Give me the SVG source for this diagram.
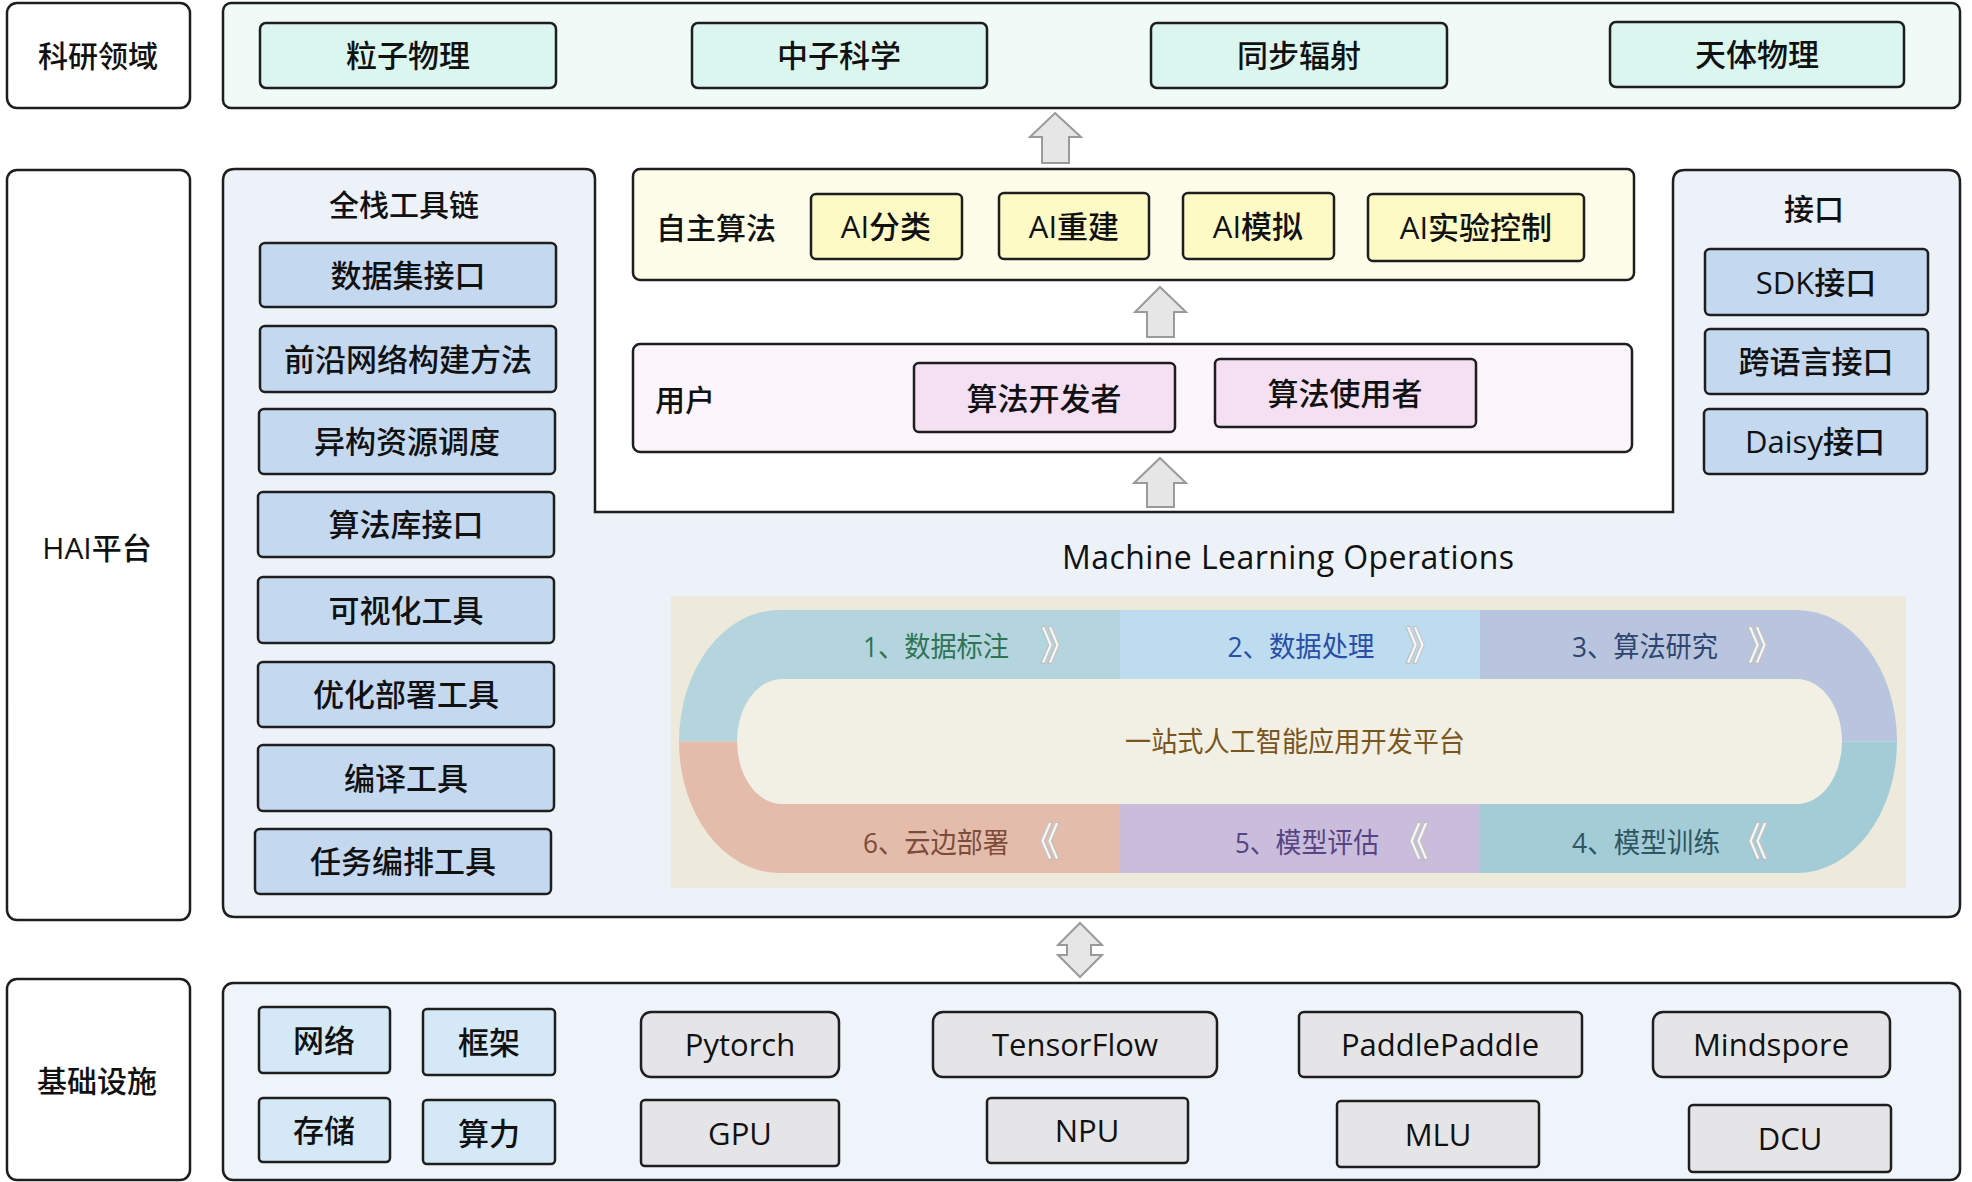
<svg xmlns="http://www.w3.org/2000/svg" width="1972" height="1182" viewBox="0 0 1972 1182">
<style>
text{font-family:"Open Sans","Noto Sans CJK SC",sans-serif;fill:#111;dominant-baseline:central;text-anchor:middle;font-weight:500}
.t30{font-size:30px}
.t31{font-size:31px}
.lbl{fill:#fff;stroke:#1e1e1e;stroke-width:2.5}
.box{stroke:#1e1e1e;stroke-width:2.5}
.dom{fill:#dbf6ef}
.tool{fill:#c4d8f0}
.ai{fill:#fdfac6}
.role{fill:#f4dff3}
.inf{fill:#d5e8f6}
.gray{fill:#e5e5e8}
.arr{fill:#e6e6e6;stroke:#9a9a9a;stroke-width:2}
.stg{font-size:28px;font-weight:400}
.chev{font-size:40px;font-weight:700;fill:#f9f9f9;stroke:#bdbdbd;stroke-width:1}
</style>
<rect width="1972" height="1182" fill="#fff"/>

<!-- left labels -->
<g id="label-keyan"><rect class="lbl" x="7" y="3" width="183" height="105" rx="10"/><text class="t30" x="98" y="55">科研领域</text></g>
<g id="label-hai"><rect class="lbl" x="7" y="170" width="183" height="750" rx="10"/><text class="t30" x="97" y="547">HAI平台</text></g>
<g id="label-infra"><rect class="lbl" x="7" y="979" width="183" height="201" rx="10"/><text class="t30" x="97" y="1080">基础设施</text></g>

<!-- domain layer -->
<g id="domain">
<rect x="223" y="3" width="1737" height="105" rx="8" fill="#f0fbf8" stroke="#1e1e1e" stroke-width="2.5"/>
<g id="d1"><rect class="box dom" x="260" y="23" width="296" height="65" rx="6"/><text class="t31" x="408" y="55">粒子物理</text></g>
<g id="d2"><rect class="box dom" x="692" y="23" width="295" height="65" rx="6"/><text class="t31" x="839" y="55">中子科学</text></g>
<g id="d3"><rect class="box dom" x="1151" y="23" width="296" height="65" rx="6"/><text class="t31" x="1299" y="55">同步辐射</text></g>
<g id="d4"><rect class="box dom" x="1610" y="22" width="294" height="65" rx="6"/><text class="t31" x="1757" y="54">天体物理</text></g>
</g>

<!-- HAI platform container -->
<g id="hai">
<path d="M235,169 L585,169 Q595,169 595,179 L595,512 L1673,512 L1673,182 Q1673,170 1685,170 L1948,170 Q1960,170 1960,182 L1960,905 Q1960,917 1948,917 L235,917 Q223,917 223,905 L223,181 Q223,169 235,169 Z" fill="#edf1f8" stroke="#1e1e1e" stroke-width="2.5"/>
<text class="t30" x="404" y="204">全栈工具链</text>
<g id="tool1"><rect class="box tool" x="260" y="243" width="296" height="64" rx="5"/><text class="t31" x="408" y="275">数据集接口</text></g>
<g id="tool2"><rect class="box tool" x="260" y="326" width="296" height="66" rx="5"/><text class="t31" x="408" y="359">前沿网络构建方法</text></g>
<g id="tool3"><rect class="box tool" x="259" y="409" width="296" height="65" rx="5"/><text class="t31" x="407" y="441">异构资源调度</text></g>
<g id="tool4"><rect class="box tool" x="258" y="492" width="296" height="65" rx="5"/><text class="t31" x="406" y="524">算法库接口</text></g>
<g id="tool5"><rect class="box tool" x="258" y="577" width="296" height="66" rx="5"/><text class="t31" x="406" y="610">可视化工具</text></g>
<g id="tool6"><rect class="box tool" x="258" y="662" width="296" height="65" rx="5"/><text class="t31" x="406" y="694">优化部署工具</text></g>
<g id="tool7"><rect class="box tool" x="258" y="745" width="296" height="66" rx="5"/><text class="t31" x="406" y="778">编译工具</text></g>
<g id="tool8"><rect class="box tool" x="255" y="829" width="296" height="65" rx="5"/><text class="t31" x="403" y="861">任务编排工具</text></g>

<text class="t30" x="1814" y="208">接口</text>
<g id="if1"><rect class="box tool" x="1705" y="249" width="223" height="66" rx="5"/><text class="t31" x="1816" y="282">SDK接口</text></g>
<g id="if2"><rect class="box tool" x="1705" y="329" width="223" height="65" rx="5"/><text class="t31" x="1816" y="361">跨语言接口</text></g>
<g id="if3"><rect class="box tool" x="1704" y="409" width="223" height="65" rx="5"/><text class="t31" x="1815" y="441">Daisy接口</text></g>
</g>

<!-- algorithms -->
<g id="algo">
<rect x="633" y="169" width="1001" height="111" rx="7" fill="#fdfde9" stroke="#1e1e1e" stroke-width="2.5"/>
<text class="t30" x="716" y="227">自主算法</text>
<g id="a1"><rect class="box ai" x="811" y="194" width="151" height="65" rx="5"/><text class="t31" x="886" y="226">AI分类</text></g>
<g id="a2"><rect class="box ai" x="999" y="193" width="150" height="66" rx="5"/><text class="t31" x="1074" y="226">AI重建</text></g>
<g id="a3"><rect class="box ai" x="1183" y="193" width="151" height="66" rx="5"/><text class="t31" x="1258" y="226">AI模拟</text></g>
<g id="a4"><rect class="box ai" x="1368" y="194" width="216" height="67" rx="5"/><text class="t31" x="1476" y="227">AI实验控制</text></g>
</g>

<!-- users -->
<g id="users">
<rect x="633" y="344" width="999" height="108" rx="7" fill="#fcf5fb" stroke="#1e1e1e" stroke-width="2.5"/>
<text class="t30" x="685" y="399">用户</text>
<g id="u1"><rect class="box role" x="914" y="363" width="261" height="69" rx="5"/><text class="t31" x="1044" y="398">算法开发者</text></g>
<g id="u2"><rect class="box role" x="1215" y="359" width="261" height="68" rx="5"/><text class="t31" x="1345" y="393">算法使用者</text></g>
</g>

<!-- MLOps -->
<g id="mlops">
<text x="1288" y="556" style="font-size:32px;font-weight:400" textLength="452">Machine Learning Operations</text>
<rect x="671" y="596" width="1235" height="292" fill="#eeeadb"/>
<path d="M779,610 L1797,610 A100 131.5 0 0 1 1797,873 L779,873 A100 131.5 0 0 1 779,610 Z" fill="#f2efe5"/>
<path d="M679,741.5 A100 131.5 0 0 1 779,610 L1120,610 L1120,679 L782,679 A45 62.5 0 0 0 737,741.5 Z" fill="#b4d5dd"/>
<rect x="1120" y="610" width="360" height="69" fill="#bddcf0"/>
<path d="M1480,610 L1797,610 A100 131.5 0 0 1 1897,741.5 L1842,741.5 A45 62.5 0 0 0 1797,679 L1480,679 Z" fill="#b9c5de"/>
<path d="M1897,741.5 A100 131.5 0 0 1 1797,873 L1480,873 L1480,804 L1797,804 A45 62.5 0 0 0 1842,741.5 Z" fill="#a3ccd7"/>
<rect x="1120" y="804" width="360" height="69" fill="#cabcdb"/>
<path d="M1120,873 L779,873 A100 131.5 0 0 1 679,741.5 L737,741.5 A45 62.5 0 0 0 782,804 L1120,804 Z" fill="#e4bcab"/>
<text class="stg" x="936" y="646" textLength="146" lengthAdjust="spacingAndGlyphs" style="fill:#2f7355">1、数据标注</text>
<text class="chev" x="1060" y="644">》</text>
<text class="stg" x="1301" y="646" textLength="147" lengthAdjust="spacingAndGlyphs" style="fill:#2a4ea8">2、数据处理</text>
<text class="chev" x="1425" y="644">》</text>
<text class="stg" x="1645" y="646" textLength="146" lengthAdjust="spacingAndGlyphs" style="fill:#2f4670">3、算法研究</text>
<text class="chev" x="1767" y="644">》</text>
<text class="stg" x="1295" y="741" textLength="340" lengthAdjust="spacingAndGlyphs" style="fill:#7a5520">一站式人工智能应用开发平台</text>
<text class="stg" x="1646" y="842" textLength="148" lengthAdjust="spacingAndGlyphs" style="fill:#2d5660">4、模型训练</text>
<text class="chev" x="1748" y="840">《</text>
<text class="stg" x="1307" y="842" textLength="144" lengthAdjust="spacingAndGlyphs" style="fill:#574484">5、模型评估</text>
<text class="chev" x="1409" y="840">《</text>
<text class="stg" x="936" y="842" textLength="146" lengthAdjust="spacingAndGlyphs" style="fill:#7c4b3a">6、云边部署</text>
<text class="chev" x="1040" y="840">《</text>
</g>

<!-- infrastructure -->
<g id="infra">
<rect x="223" y="983" width="1737" height="197" rx="10" fill="#eff3fa" stroke="#1e1e1e" stroke-width="2.5"/>
<g id="i1"><rect class="box inf" x="259" y="1007" width="131" height="66" rx="4"/><text class="t31" x="324" y="1040">网络</text></g>
<g id="i2"><rect class="box inf" x="423" y="1009" width="132" height="66" rx="4"/><text class="t31" x="489" y="1042">框架</text></g>
<g id="i3"><rect class="box inf" x="259" y="1098" width="131" height="64" rx="4"/><text class="t31" x="324" y="1130">存储</text></g>
<g id="i4"><rect class="box inf" x="423" y="1100" width="132" height="64" rx="4"/><text class="t31" x="489" y="1133">算力</text></g>
<g id="f1"><rect class="box gray" x="641" y="1012" width="198" height="65" rx="10"/><text class="t31" x="740" y="1044">Pytorch</text></g>
<g id="f2"><rect class="box gray" x="933" y="1012" width="284" height="65" rx="10"/><text class="t31" x="1075" y="1044">TensorFlow</text></g>
<g id="f3"><rect class="box gray" x="1299" y="1012" width="283" height="65" rx="5"/><text class="t31" x="1440" y="1044">PaddlePaddle</text></g>
<g id="f4"><rect class="box gray" x="1653" y="1012" width="237" height="65" rx="10"/><text class="t31" x="1771" y="1044">Mindspore</text></g>
<g id="h1"><rect class="box gray" x="641" y="1100" width="198" height="66" rx="4"/><text class="t31" x="740" y="1133">GPU</text></g>
<g id="h2"><rect class="box gray" x="987" y="1098" width="201" height="65" rx="4"/><text class="t31" x="1087" y="1130">NPU</text></g>
<g id="h3"><rect class="box gray" x="1337" y="1101" width="202" height="66" rx="4"/><text class="t31" x="1438" y="1134">MLU</text></g>
<g id="h4"><rect class="box gray" x="1689" y="1105" width="202" height="67" rx="4"/><text class="t31" x="1790" y="1138">DCU</text></g>
</g>

<!-- connectors -->
<g id="connectors">
<path class="arr" d="M1055,113 L1081,137 L1069,137 L1069,163 L1042,163 L1042,137 L1030,137 Z"/>
<path class="arr" d="M1160,287 L1186,312 L1174,312 L1174,337 L1147,337 L1147,312 L1135,312 Z"/>
<path class="arr" d="M1160,458 L1186,483 L1174,483 L1174,507 L1147,507 L1147,483 L1134,483 Z"/>
<path class="arr" d="M1080,923 L1102,945 L1091,945 L1091,955 L1102,955 L1080,977 L1058,955 L1067,955 L1067,945 L1058,945 Z"/>
</g>
</svg>
